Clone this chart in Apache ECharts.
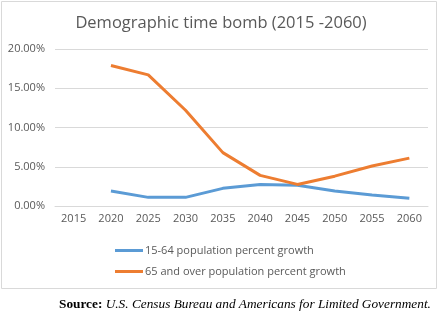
<!DOCTYPE html>
<html>
<head>
<meta charset="utf-8">
<script src="https://cdn.jsdelivr.net/npm/echarts@6/dist/echarts.min.js"></script>
<style>
  html, body { margin: 0; padding: 0; background: #fff; }
  #chart { width: 442px; height: 326px; }
</style>
</head>
<body>
<div id="chart"></div>
<script>
// Projected growth by age group, in percent
const years = ['2015', '2020', '2025', '2030', '2035', '2040', '2045', '2050', '2055', '2060'];
const workingAge = [null, 1.9, 1.1, 1.1, 2.25, 2.75, 2.65, 1.9, 1.4, 1.0];
const seniors = [null, 17.9, 16.7, 12.2, 6.8, 3.9, 2.75, 3.8, 5.1, 6.1];
const yTicks = [0, 5, 10, 15, 20];

const textColor = '#595959';
const gridColor = '#D9D9D9';
const font = '"Open Sans", "Liberation Sans", sans-serif';

const chart = echarts.init(document.getElementById('chart'));
chart.setOption({
  animation: false,
  title: {
    text: 'Demographic time bomb (2015 -2060)',
    left: 'center',
    top: 10,
    textStyle: { color: textColor, fontSize: 16.5, fontWeight: 'normal', fontFamily: font }
  },
  grid: { left: 55, right: 14, top: 49, bottom: 120 },
  legend: {
    orient: 'vertical',
    left: 110,
    top: 240,
    itemWidth: 28,
    itemHeight: 3,
    itemGap: 10,
    icon: 'rect',
    textStyle: { color: textColor, fontSize: 11, fontFamily: font, padding: [0, 0, 0, -3] },
    data: ['15-64 population percent growth', '65 and over population percent growth']
  },
  xAxis: {
    type: 'category',
    data: years,
    boundaryGap: true,
    axisLine: { lineStyle: { color: gridColor } },
    axisTick: { show: false },
    axisLabel: { color: textColor, fontSize: 11, fontFamily: font, margin: 7 }
  },
  yAxis: {
    type: 'value',
    min: yTicks[0],
    max: yTicks[yTicks.length - 1],
    interval: 5,
    axisLine: { show: false },
    axisTick: { show: false },
    splitLine: { lineStyle: { color: gridColor } },
    axisLabel: {
      color: textColor, fontSize: 11, fontFamily: font, margin: 10,
      formatter: v => v.toFixed(2) + '%'
    }
  },
  series: [
    {
      name: '15-64 population percent growth',
      type: 'line',
      data: workingAge,
      showSymbol: false,
      symbol: 'none',
      color: '#5B9BD5',
      lineStyle: { width: 3, color: '#5B9BD5' }
    },
    {
      name: '65 and over population percent growth',
      type: 'line',
      data: seniors,
      showSymbol: false,
      symbol: 'none',
      color: '#ED7D31',
      lineStyle: { width: 3, color: '#ED7D31' }
    }
  ],
  graphic: [
    {
      type: 'rect',
      shape: { x: 1.5, y: 1.5, width: 435, height: 287 },
      style: { fill: 'none', stroke: gridColor, lineWidth: 1 },
      silent: true
    },
    {
      type: 'text',
      left: 59,
      top: 298,
      style: {
        text: '{b|Source:} {i|U.S. Census Bureau and Americans for Limited Government.}',
        rich: {
          b: { fontFamily: '"Liberation Serif", serif', fontWeight: 'bold', fontSize: 13.3, fill: '#000' },
          i: { fontFamily: '"Liberation Serif", serif', fontStyle: 'italic', fontSize: 13.3, fill: '#000' }
        }
      }
    }
  ]
});
</script>
</body>
</html>
